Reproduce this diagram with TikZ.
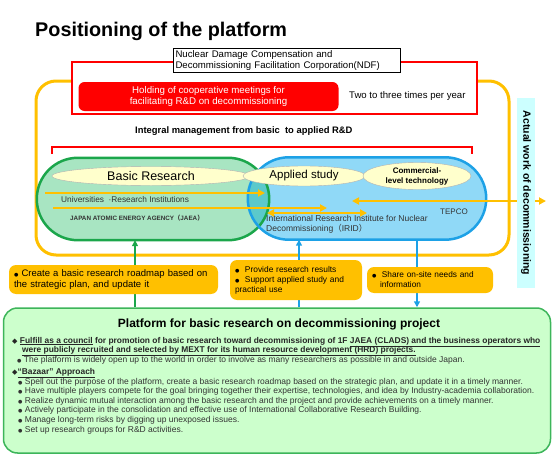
\documentclass[tikz,border=0pt]{standalone}
\usepackage{fontspec}
\setmainfont{Liberation Sans}
\newfontfamily\symfont{DejaVu Sans}
\newfontfamily\cjk{Noto Sans CJK JP}
\usetikzlibrary{positioning, arrows.meta, shapes.geometric}

\definecolor{gold}{HTML}{FFC000}
\definecolor{jaeagreen}{HTML}{1BA64B}
\definecolor{jaeafill}{HTML}{A8E5C2}
\definecolor{iridblue}{HTML}{1DA1E6}
\definecolor{iridfill}{HTML}{90D9F7}
\definecolor{overlapfill}{HTML}{5BC9CB}
\definecolor{ovalfill}{HTML}{FFFFCC}
\definecolor{platfill}{HTML}{CCFFCC}
\definecolor{platline}{HTML}{3DB55A}
\definecolor{labelfill}{HTML}{CCFFFF}
\definecolor{bodytext}{HTML}{333333}

\newcommand{\blt}{{\symfont\fontsize{5}{5}\selectfont●}}
\newcommand{\diam}{{\symfont\fontsize{7}{7}\selectfont◆}}

\tikzstyle{stadium} = [rectangle, rounded corners=41pt, minimum height=82pt, inner sep=0pt]
\tikzstyle{oval} = [ellipse, draw=gray!60, fill=ovalfill, inner sep=0pt]
\tikzstyle{callout} = [fill=gold, rounded corners=7pt, align=left, inner xsep=5pt, inner ysep=0pt, text=black]
\tikzstyle{goldarrow} = [draw=gold, line width=2pt, -{Triangle[length=7pt, width=7pt]}]
\tikzstyle{goldboth} = [draw=gold, line width=2pt, {Triangle[length=7pt, width=7pt]}-{Triangle[length=7pt, width=7pt]}]
\tikzstyle{upline} = [line width=1.8pt, -{Triangle[length=6pt, width=6pt]}]
\tikzstyle{small} = [anchor=base west, inner sep=0pt, text=bodytext, font=\fontsize{8.5}{9}\selectfont]
\tikzstyle{boldline} = [small, text=black!85, font=\fontsize{8.4}{9}\selectfont\bfseries]

\begin{document}
\begin{tikzpicture}[x=1pt, y=-1pt]
	\useasboundingbox (0,0) rectangle (555,455);
	
	% Title
	\node[anchor=base west, inner sep=0pt, font=\fontsize{19.8}{22}\selectfont\bfseries] (title) at (35,36) {Positioning of the platform};
	
	% outer frame and NDF
	\draw[gold, line width=3pt, rounded corners=20pt] (36,81) rectangle (509,255);
	\draw[red, line width=2pt, fill=white] (72,62) rectangle (477,114);
	\node[draw=black, fill=white, line width=0.8pt, align=left, text width=223pt, inner sep=2pt, font=\fontsize{9.6}{11}\selectfont] (ndf) at (287,60.5) {Nuclear Damage Compensation and\\Decommissioning Facilitation Corporation(NDF)};
	\node[fill=red, text=white, rounded corners=6pt, minimum width=260pt, minimum height=29pt, align=center, font=\fontsize{9.7}{10.5}\selectfont] (meeting) at (208.5,96.5) {Holding of cooperative meetings for\\facilitating R\&D on decommissioning};
	\node[anchor=west, inner sep=0pt, font=\fontsize{9.6}{11}\selectfont] (times) at (349,96) {Two to three times per year};
	
	% integral management
	\node[anchor=base west, inner sep=0pt, font=\fontsize{9.4}{10}\selectfont\bfseries] (integral) at (135,133) {Integral management from basic\ \ to applied R\&D};
	\draw[red, line width=2pt] (52,154) -- (52,147) -- (472,147) -- (472,154);
	
	% JAEA and IRID areas
	\node[stadium, fill=jaeafill, minimum width=232pt] (jaea) at (153,199) {};
	\node[stadium, fill=iridfill, minimum width=238pt] (irid) at (367,198.5) {};
	\begin{scope}
		\clip[rounded corners=41pt] (jaea.south west) rectangle (jaea.north east);
		\fill[overlapfill, rounded corners=41pt] (irid.south west) rectangle (irid.north east);
	\end{scope}
	\draw[jaeagreen, line width=2.5pt, rounded corners=41pt] (jaea.south west) rectangle (jaea.north east);
	\draw[iridblue, line width=2.5pt, rounded corners=41pt] (irid.south west) rectangle (irid.north east);
	
	% stages
	\node[oval, minimum width=198pt, minimum height=19pt, font=\fontsize{12.5}{14}\selectfont] (basic) at (151,176) {Basic Research};
	\node[oval, minimum width=122pt, minimum height=20pt, font=\fontsize{11.5}{13}\selectfont] (applied) at (304,176) {Applied study};
	\node[oval, minimum width=108pt, minimum height=27pt, align=center, font=\fontsize{8}{10}\selectfont\bfseries] (commercial) at (417,176) {Commercial-\\level technology};
	
	% organisations
	\node[small, font=\fontsize{8.3}{9}\selectfont] (univ) at (61,202) {Universities\ \ ·Research Institutions};
	\node[small, font=\fontsize{6.3}{7}\selectfont\bfseries] (jaeaname) at (70,220) {JAPAN ATOMIC ENERGY AGENCY{\cjk（}JAEA{\cjk）}};
	\node[small] (irid1) at (266,221) {International Research Institute for Nuclear};
	\node[small] (irid2) at (266,231) {Decommissioning{\cjk（}IRID{\cjk）}};
	\node[small, font=\fontsize{8}{9}\selectfont] (tepco) at (440,214) {TEPCO};
	
	% flows
	\coordinate (f1s) at (45,193);
	\coordinate (f1e) at (265,193);
	\coordinate (f2s) at (53,208);
	\coordinate (f2e) at (327,208);
	\coordinate (f3s) at (267,213);
	\coordinate (f3e) at (367,213);
	\coordinate (f4s) at (352,201);
	\coordinate (f4e) at (546,201);
	\draw[goldarrow] (f1s) -- (f1e);
	\draw[goldarrow] (f2s) -- (f2e);
	\draw[goldboth] (f3s) -- (f3e);
	\draw[goldboth] (f4s) -- (f4e);
	
	% actual work
	\node[rotate=-90, fill=labelfill, minimum width=190pt, minimum height=18pt, inner sep=0pt, font=\fontsize{10.5}{12}\selectfont\bfseries] (actual) at (526,193) {Actual work of decommissioning};
	
	% platform
	\node[draw=platline, fill=platfill, line width=1.5pt, rounded corners=14pt, minimum width=547pt, minimum height=145pt] (platform) at (277,380.5) {};
	
	% links to the platform
	\coordinate (gx) at (135,0);
	\coordinate (bx) at (299,0);
	\coordinate (tx) at (417,0);
	\draw[upline, jaeagreen] (platform.north -| gx) -- (jaea.south -| gx);
	\draw[upline, iridblue] (platform.north -| bx) -- (irid.south -| bx);
	\draw[upline, iridblue] (irid.south -| tx) -- (platform.north -| tx);
	
	% roles
	\node[callout, minimum width=209pt, minimum height=29pt, text width=199pt, font=\fontsize{9.5}{11}\selectfont] (roadmap) at (113.5,279.5) {\blt\ Create a basic research roadmap based on\\the strategic plan, and update it};
	\node[callout, minimum width=132pt, minimum height=40pt, text width=122pt, font=\fontsize{8.4}{10}\selectfont] (results) at (296,280) {\blt\ \ Provide research results\\\blt\ \ Support applied study and\\practical use};
	\node[callout, minimum width=126pt, minimum height=26pt, text width=116pt, font=\fontsize{8.3}{10}\selectfont] (needs) at (430,280) {\blt\ \ Share on-site needs and\\\hspace*{8pt}information};
	
	% platform text
	\node[anchor=base, inner sep=0pt, font=\fontsize{12}{14}\selectfont\bfseries] (plattitle) at (279,327) {Platform for basic research on decommissioning project};
	\node[boldline] (council1) at (12,343) {\diam\ \underline{Fulfill as a council} for promotion of basic research toward decommissioning of 1F \underline{JAEA (CLADS) and the business operators who}};
	\node[boldline] (council2) at (22,352.5) {\underline{were publicly recruited and selected by MEXT for its human resource development (HRD) projects.}};
	\node[small] (open) at (17,362.5) {\blt\ The platform is widely open up to the world in order to involve as many researchers as possible in and outside Japan.};
	\node[boldline] (bazaar) at (12,374) {\diam\underline{“Bazaar” Approach}};
	\foreach \yy/\tx [count=\i] in {
		384/{Spell out the purpose of the platform, create a basic research roadmap based on the strategic plan, and update it in a timely manner.},
		393.5/{Have multiple players compete for the goal bringing together their expertise, technologies, and idea by Industry-academia collaboration.},
		403/{Realize dynamic mutual interaction among the basic research and the project and provide achievements on a timely manner.},
		412.5/{Actively participate in the consolidation and effective use of International Collaborative Research Building.},
		422/{Manage long-term risks by digging up unexposed issues.},
		432/{Set up research groups for R\&D activities.}}
	{
		\node[small] (item\i) at (18,\yy) {\blt\ \tx};
	}
	
\end{tikzpicture}
\end{document}
